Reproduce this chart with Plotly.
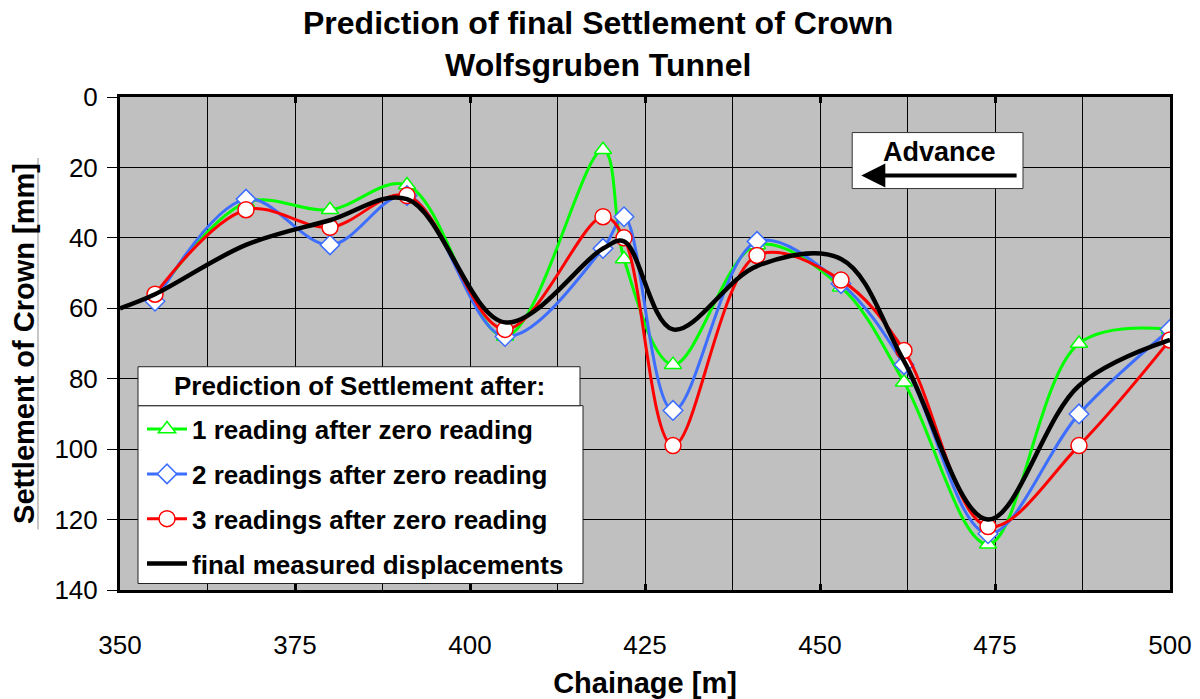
import plotly.graph_objects as go

# ---- data ----
chainage = [355, 368, 380, 391, 405, 419, 422, 429, 441, 453, 462, 474, 487, 500]
pred_1 = [57, 30, 32, 25, 68, 15, 46, 76, 42, 54, 81, 127, 70, 66]
pred_2 = [58, 29, 42, 28, 68, 43, 34, 89, 41, 53, 76, 124, 90, 66]
pred_3 = [56, 32, 37, 28, 66, 34, 40, 99, 45, 52, 72, 122, 99, 69]
final_chainage = [350, 355, 368, 380, 391, 405, 419, 422, 429, 441, 453, 462, 474, 487, 500]
final_meas = [60, 56, 42, 35, 29, 64, 43, 41, 66, 48, 46, 75, 120, 82, 69]

x_ticks = [350, 375, 400, 425, 450, 475, 500]
x_tick_text = ["350", "375", "400", "425", "450", "475", "500"]
y_ticks = [0, 20, 40, 60, 80, 100, 120, 140]

names = ["1 reading after zero reading", "2 readings after zero reading",
         "3 readings after zero reading", "final measured displacements"]
legend_title = "Prediction of Settlement after:"
title_lines = ["Prediction of final Settlement of Crown", "Wolfsgruben Tunnel"]

FONT = "Liberation Sans, Arial, sans-serif"
PT, PB = 97.0, 590.5  # plot top / bottom in px
PH = PB - PT

def py(p):  # pixel y -> paper y
    return (PB - p) / PH

def px(p):  # pixel x -> paper x
    return (p - 120) / 1050

fig = go.Figure()
fig.add_trace(go.Scatter(x=chainage, y=pred_1, name="<b>" + names[0] + "</b>", legendgroup="a",
                         mode="lines+markers", line=dict(color="#00FF00", width=3, shape="spline"),
                         marker=dict(symbol="triangle-up", size=15, color="white",
                                     line=dict(color="#00FF00", width=1.5))))
fig.add_trace(go.Scatter(x=chainage, y=pred_2, name="<b>" + names[1] + "</b>", legendgroup="b",
                         mode="lines+markers", line=dict(color="#3D6EFF", width=3, shape="spline"),
                         marker=dict(symbol="diamond", size=15, color="white",
                                     line=dict(color="#3D6EFF", width=1.5))))
fig.add_trace(go.Scatter(x=chainage, y=pred_3, name="<b>" + names[2] + "</b>", legendgroup="c",
                         mode="lines+markers", line=dict(color="#FF0000", width=3, shape="spline"),
                         marker=dict(symbol="circle", size=16, color="white",
                                     line=dict(color="#FF0000", width=1.5))))
fig.add_trace(go.Scatter(x=final_chainage, y=final_meas, name="<b>" + names[3] + "</b>", legendgroup="d",
                         mode="lines", line=dict(color="black", width=4.5, shape="spline")))

fig.update_layout(
    width=1200, height=699,
    margin=dict(l=120, r=30, t=PT, b=699 - PB, autoexpand=False),
    paper_bgcolor="white", plot_bgcolor="#C0C0C0",
    font=dict(family=FONT, size=26, color="black"),
    xaxis=dict(range=[350, 500], tickvals=x_ticks, ticktext=x_tick_text, automargin=False,
               showgrid=True, gridcolor="black", gridwidth=1,
               minor=dict(dtick=12.5, tick0=350, showgrid=True, gridcolor="black", gridwidth=1),
               ticks="inside", ticklen=6, tickwidth=3, tickcolor="black",
               showline=True, linecolor="black", linewidth=3, mirror="ticks",
               ticklabelstandoff=30, zeroline=False, tickfont=dict(size=26),
               title=dict(text="<b>Chainage [m]</b>", standoff=17,
                          font=dict(family=FONT, size=29))),
    yaxis=dict(range=[140, 0], tickvals=y_ticks, automargin=False,
               showgrid=True, gridcolor="black", gridwidth=1,
               ticks="outside", ticklen=10, tickwidth=1, tickcolor="black",
               showline=True, linecolor="black", linewidth=3, mirror=True, zeroline=False,
               ticklabelstandoff=4, tickfont=dict(size=26),
               title=dict(text="<b>Settlement of Crown [mm]</b>", standoff=12,
                          font=dict(family=FONT, size=29))),
    legend=dict(x=px(142), y=py(406), xanchor="left", yanchor="top",
                bgcolor="rgba(0,0,0,0)", borderwidth=0,
                font=dict(family=FONT, size=26, color="black"),
                traceorder="grouped", tracegroupgap=8, itemwidth=40),
    showlegend=True,
)

# legend boxes (title row + entries box)
fig.add_shape(type="rect", xref="paper", yref="paper", x0=px(138), x1=px(583), y0=py(584), y1=py(406),
              fillcolor="white", line=dict(color="#222222", width=1), layer="above")
fig.add_shape(type="rect", xref="paper", yref="paper", x0=px(138), x1=px(580), y0=py(406), y1=py(367),
              fillcolor="white", line=dict(color="#222222", width=1), layer="above")
fig.add_annotation(x=px(359), y=py(386.5), xref="paper", yref="paper", text="<b>" + legend_title + "</b>",
                   showarrow=False, xanchor="center", yanchor="middle", font=dict(family=FONT, size=26))

# title (two lines)
fig.add_annotation(x=0.4557, y=py(22.5), xref="paper", yref="paper", text="<b>" + title_lines[0] + "</b>",
                   showarrow=False, yanchor="middle", font=dict(family=FONT, size=32))
fig.add_annotation(x=0.4557, y=py(65), xref="paper", yref="paper", text="<b>" + title_lines[1] + "</b>",
                   showarrow=False, yanchor="middle", font=dict(family=FONT, size=32))

# Advance box
fig.add_shape(type="rect", xref="x", yref="y", x0=454.6, x1=479.0, y0=10.1, y1=26.0,
              fillcolor="white", line=dict(color="#333333", width=1), layer="above")
fig.add_annotation(x=467, y=15.6, xref="x", yref="y", text="<b>Advance</b>", showarrow=False,
                   font=dict(family=FONT, size=27, color="black"))
fig.add_annotation(x=455.9, y=22.3, ax=478.3, ay=22.3, xref="x", yref="y", axref="x", ayref="y",
                   text="", showarrow=True, arrowhead=2, arrowsize=1.2, arrowwidth=4,
                   arrowcolor="black")

# light band beside the y-axis title
fig.add_shape(type="line", xref="paper", yref="paper",
              x0=px(38), x1=px(38), y0=py(530), y1=py(158),
              line=dict(color="#C8C8C8", width=2), layer="below")

fig.write_html("out.html", config={"displayModeBar": False},
               post_script="document.body.style.margin='0';")
